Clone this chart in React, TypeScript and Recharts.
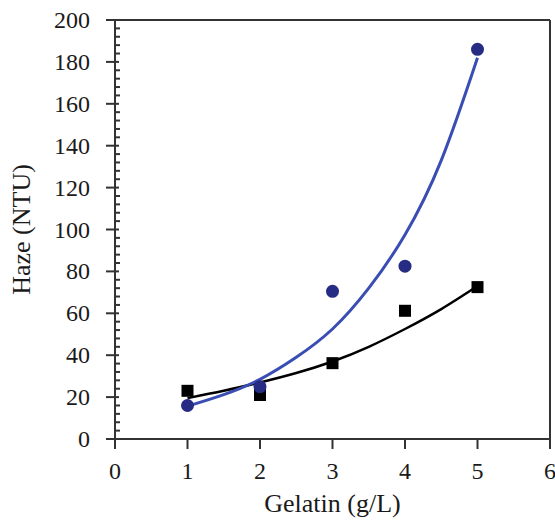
import React from "react";
import {
  ComposedChart,
  XAxis,
  YAxis,
  Scatter,
  Line,
  ReferenceLine,
} from "recharts";

const xTicks = [0, 1, 2, 3, 4, 5, 6];
const yMajorStep = 20;
const yTicks = Array.from({ length: 51 }, (_, i) => i * 4);

const blueX = [1, 2, 3, 4, 5];
const blueY = [16, 25, 70.5, 82.5, 186];
const blackX = [1, 2, 3, 4, 5];
const blackY = [23, 21, 36.2, 61.2, 72.5];

const curveX = [1, 1.5, 2, 2.5, 3, 3.5, 4, 4.5, 5];
const blueCurveY = [15.7, 21.2, 28.5, 39, 52.5, 72, 97.5, 133, 182];
const blackCurveY = [19.5, 23, 27, 31.5, 37, 44, 52.5, 62, 73];

const bluePoints = blueX.map((x, i) => ({ x, y: blueY[i] }));
const blackPoints = blackX.map((x, i) => ({ x, y: blackY[i] }));
const blueCurve = curveX.map((x, i) => ({ x, y: blueCurveY[i] }));
const blackCurve = curveX.map((x, i) => ({ x, y: blackCurveY[i] }));

const FONT = "Liberation Serif, Times New Roman, serif";
const AXIS = "#333333";
const TEXT = "#1a1a1a";

const YTick = (props: any) => {
  const { x, y, payload } = props;
  const v = payload.value;
  const major = v % yMajorStep === 0;
  return (
    <g>
      {major ? (
        <>
          <line x1={x - 9} x2={x + 4} y1={y} y2={y} stroke={AXIS} strokeWidth={2} />
          <text
            x={x - 25}
            y={y}
            textAnchor="end"
            dominantBaseline="central"
            style={{ fontFamily: FONT, fontSize: 24, fill: TEXT }}
          >
            {v}
          </text>
        </>
      ) : (
        <line x1={x} x2={x + 5} y1={y} y2={y} stroke={AXIS} strokeWidth={2} />
      )}
    </g>
  );
};

const XTick = (props: any) => {
  const { x, y, payload } = props;
  return (
    <text
      x={x}
      y={y}
      textAnchor="middle"
      dominantBaseline="hanging"
      style={{ fontFamily: FONT, fontSize: 24, fill: TEXT }}
    >
      {payload.value}
    </text>
  );
};

const Circle = (props: any) => (
  <circle cx={props.cx} cy={props.cy} r={6.5} fill="#262c84" />
);
const Square = (props: any) => (
  <rect x={props.cx - 6} y={props.cy - 6} width={12} height={12} fill="#000000" />
);

export default function App() {
  return (
    <div style={{ position: "absolute", left: 0, top: 0, background: "#fff" }}>
      <ComposedChart
        width={555}
        height={523}
        margin={{ top: 20, right: 5, bottom: 24, left: 0 }}
      >
        <XAxis
          type="number"
          dataKey="x"
          domain={[0, 6]}
          ticks={xTicks}
          interval={0}
          allowDataOverflow
          height={60}
          stroke={AXIS}
          strokeWidth={2}
          tickSize={10}
          tickMargin={13}
          tick={<XTick />}
          label={{
            value: "Gelatin (g/L)",
            position: "insideBottom",
            offset: 0,
            dy: 13,
            style: { fontFamily: FONT, fontSize: 26, fill: TEXT },
          }}
        />
        <YAxis
          type="number"
          dataKey="y"
          domain={[0, 200]}
          ticks={yTicks}
          interval={0}
          allowDataOverflow
          width={115}
          stroke={AXIS}
          strokeWidth={2}
          tickLine={false}
          tickSize={0}
          tickMargin={0}
          tick={<YTick />}
          label={{
            value: "Haze (NTU)",
            angle: -90,
            position: "insideLeft",
            offset: 0,
            dx: 21,
            style: { fontFamily: FONT, fontSize: 26, fill: TEXT, textAnchor: "middle" },
          }}
        />
        <ReferenceLine y={200} stroke={AXIS} strokeWidth={2} />
        <ReferenceLine x={6} stroke={AXIS} strokeWidth={2} />
        <Line
          data={blackCurve}
          dataKey="y"
          type="natural"
          stroke="#000000"
          strokeWidth={2.5}
          dot={false}
          activeDot={false}
          isAnimationActive={false}
        />
        <Scatter data={blackPoints} dataKey="y" shape={<Square />} isAnimationActive={false} />
        <Scatter data={bluePoints} dataKey="y" shape={<Circle />} isAnimationActive={false} />
        <Line
          data={blueCurve}
          dataKey="y"
          type="natural"
          stroke="#3a4db3"
          strokeWidth={3}
          dot={false}
          activeDot={false}
          isAnimationActive={false}
        />
      </ComposedChart>
    </div>
  );
}
